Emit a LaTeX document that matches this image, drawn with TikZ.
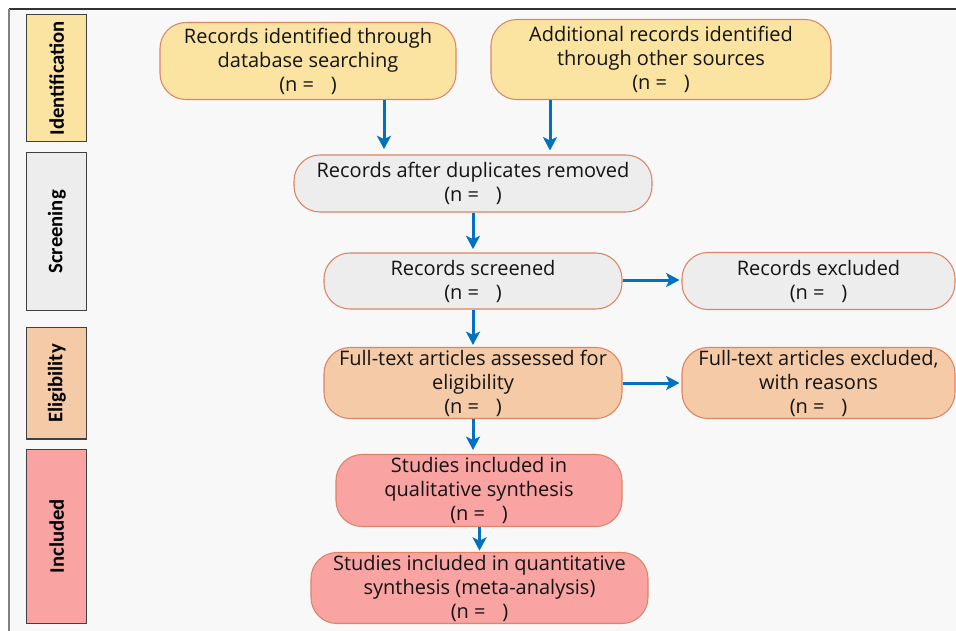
\documentclass[tikz,border=0pt]{standalone}
\usepackage{fontspec}
\setmainfont{Open Sans}
\newfontfamily\sidefont{Carlito}
\usetikzlibrary{arrows.meta}

\definecolor{bgpanel}{HTML}{F8F8F8}
\definecolor{yellowfill}{HTML}{FBE4A2}
\definecolor{grayfill}{HTML}{EDEDED}
\definecolor{peachfill}{HTML}{F5CBA7}
\definecolor{pinkfill}{HTML}{F9A3A3}
\definecolor{boxedge}{HTML}{DE8466}
\definecolor{flowblue}{HTML}{0070C0}
\definecolor{textdark}{HTML}{141414}

\newcommand{\nblank}{(n =\hspace{12.5pt})}

\tikzset{
  stage/.style={draw=boxedge, line width=0.8pt, rounded corners=19.5pt,
    align=center, text=textdark, inner sep=0pt,
    font=\fontsize{15pt}{18pt}\selectfont},
  phase/.style={draw=black!75, line width=0.8pt, rotate=90, inner sep=0pt,
    minimum height=44.8pt, text=black,
    font=\sidefont\bfseries\fontsize{15.5pt}{18pt}\selectfont},
  flow/.style={draw=flowblue, line width=2.25pt,
    -{Stealth[length=10pt, width=10.5pt, inset=2.5pt]}},
}

\begin{document}
\begin{tikzpicture}[x=0.75pt, y=-0.75pt]
  \useasboundingbox (0,0) rectangle (956,631);
  % panel with its top and left rules
  \fill[bgpanel] (9,9.5) rectangle (956,631);
  \draw[black!80, line width=1.5pt] (9,9.5) -- (956,9.5);
  \draw[black!50, line width=1.8pt] (9,9.5) -- (9,631);

  % phase labels down the left side
  \node[phase, fill=yellowfill, minimum width=95.5pt] (pid) at (56.8,78.3) {Identification};
  \node[phase, fill=grayfill, minimum width=118.7pt] (psc) at (56.8,231.8) {Screening};
  \node[phase, fill=peachfill, minimum width=83.5pt] (pel) at (56.8,383.3) {Eligibility};
  \node[phase, fill=pinkfill, minimum width=130.3pt] (pin) at (56.8,536.2) {Included};

  % flow boxes
  \node[stage, fill=yellowfill, minimum width=222pt, minimum height=57.75pt] (db) at (308,61)
    {Records identified through\\database searching\\\nblank};
  \node[stage, fill=yellowfill, minimum width=255pt, minimum height=60pt] (other) at (661,59.5)
    {Additional records identified\\through other sources\\\nblank};
  \node[stage, fill=grayfill, minimum width=268.5pt, minimum height=42.75pt] (dup) at (473,183.5)
    {Records after duplicates removed\\\nblank};
  \node[stage, fill=grayfill, minimum width=223.5pt, minimum height=42pt] (screen) at (473,281)
    {Records screened\\\nblank};
  \node[stage, fill=grayfill, minimum width=204.75pt, minimum height=42.75pt] (excl) at (818.5,281)
    {Records excluded\\\nblank};
  \node[stage, fill=peachfill, minimum width=223.5pt, minimum height=53.25pt] (full) at (473,383)
    {Full-text articles assessed for\\eligibility\\\nblank};
  \node[stage, fill=peachfill, minimum width=204.75pt, minimum height=53.25pt] (fullex) at (818.5,383)
    {Full-text articles excluded,\\with reasons\\\nblank};
  \node[stage, fill=pinkfill, minimum width=214.5pt, minimum height=54pt] (qual) at (479,490.5)
    {Studies included in\\qualitative synthesis\\\nblank};
  \node[stage, fill=pinkfill, minimum width=252.75pt, minimum height=53.25pt] (quant) at (479.5,588)
    {Studies included in quantitative\\synthesis (meta-analysis)\\\nblank};

  % connectors
  \draw[flow, shorten >=4pt] (db.south -| 384,0) -- (dup.north -| 384,0);
  \draw[flow, shorten >=3pt] (other.south -| 550,0) -- (dup.north -| 550,0);
  \draw[flow, shorten >=2.5pt] (dup.south -| 473,0) -- (screen.north -| 473,0);
  \draw[flow, shorten >=1.5pt] (screen.south -| 473,0) -- (full.north -| 473,0);
  \draw[flow, shorten >=1.5pt] (screen.east |- 0,280) -- (excl.west |- 0,280);
  \draw[flow, shorten >=1.5pt] (full.east) -- (fullex.west);
  \draw[flow, shorten >=3pt] (full.south -| 473,0) -- (qual.north -| 473,0);
  \draw[flow, shorten >=1pt] (qual.south -| 479.5,0) -- (quant.north -| 479.5,0);
\end{tikzpicture}
\end{document}
